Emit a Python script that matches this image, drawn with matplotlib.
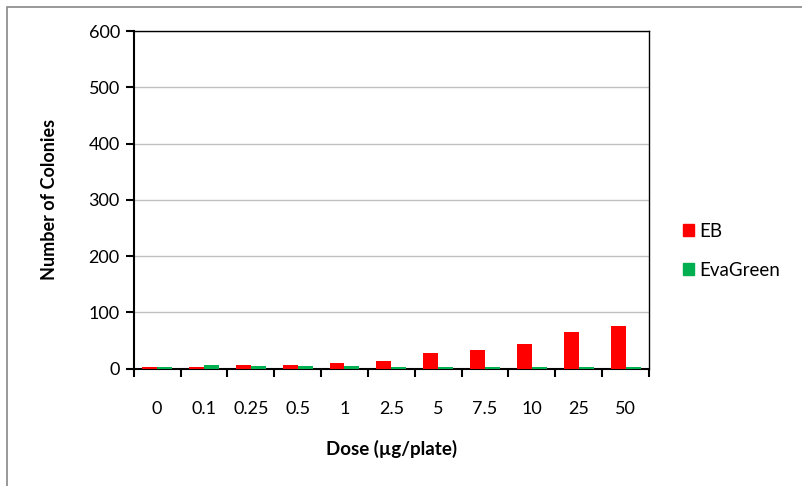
import numpy as np
import matplotlib
matplotlib.use("Agg")
from matplotlib import pyplot as plt
from matplotlib.patches import Patch, Rectangle

doses = ["0", "0.1", "0.25", "0.5", "1", "2.5", "5", "7.5", "10", "25", "50"]
eb = [3.5, 3, 7, 7, 10, 13, 28, 34, 43, 66, 75]
evagreen = [3.5, 7, 4, 4, 4, 3, 3, 3, 3, 3, 3]

plt.rcParams['font.family'] = ['Lato', 'DejaVu Sans']

fig = plt.figure(figsize=(8.02, 4.86), dpi=100)
ax = fig.add_axes([0.1667, 0.2414, 0.8092 - 0.1667, 0.9362 - 0.2414])

x = np.arange(len(doses)) + 0.5
w = 0.32
ax.bar(x - w / 2, eb, width=w, color="#FF0000", zorder=3)
ax.bar(x + w / 2, evagreen, width=w, color="#00B050", zorder=3)

ax.set_xlim(0, len(doses))
ax.set_ylim(0, 600)
ax.set_yticks(range(0, 601, 100))
ax.yaxis.grid(True, color="#c0c0c0", linewidth=1, zorder=0)

ax.set_xticks(np.arange(len(doses) + 1))
ax.set_xticklabels([])
ax.set_xticks(x, minor=True)
ax.set_xticklabels(doses, minor=True)
ax.tick_params(axis="x", which="major", direction="out", length=6, width=1.5)
ax.tick_params(axis="x", which="minor", length=0, pad=23, labelsize=13)
ax.tick_params(axis="y", direction="out", length=6, width=1.5, pad=4, labelsize=13)

for s in ["left", "bottom"]:
    ax.spines[s].set_linewidth(1.5)
for s in ["top", "right"]:
    ax.spines[s].set_linewidth(1.0)

ax.set_xlabel("Dose (\u00b5g/plate)", fontsize=13.5, fontweight="bold", labelpad=17)
ax.set_ylabel("Number of Colonies", fontsize=13, fontweight="bold", labelpad=22)

handles = [Patch(color="#FF0000", label="EB"), Patch(color="#00B050", label="EvaGreen")]
fig.legend(handles=handles, loc="center left", bbox_to_anchor=(0.83, 0.484),
           frameon=False, fontsize=13.5, handlelength=0.6, handleheight=0.6,
           handletextpad=0.3, labelspacing=1.2)

fig.patches.append(Rectangle((7 / 802, -0.2), 2, 1.2 - 7 / 486, transform=fig.transFigure,
                             fill=False, edgecolor="#888888", linewidth=1.2))

fig.savefig("out.png", dpi=100)
